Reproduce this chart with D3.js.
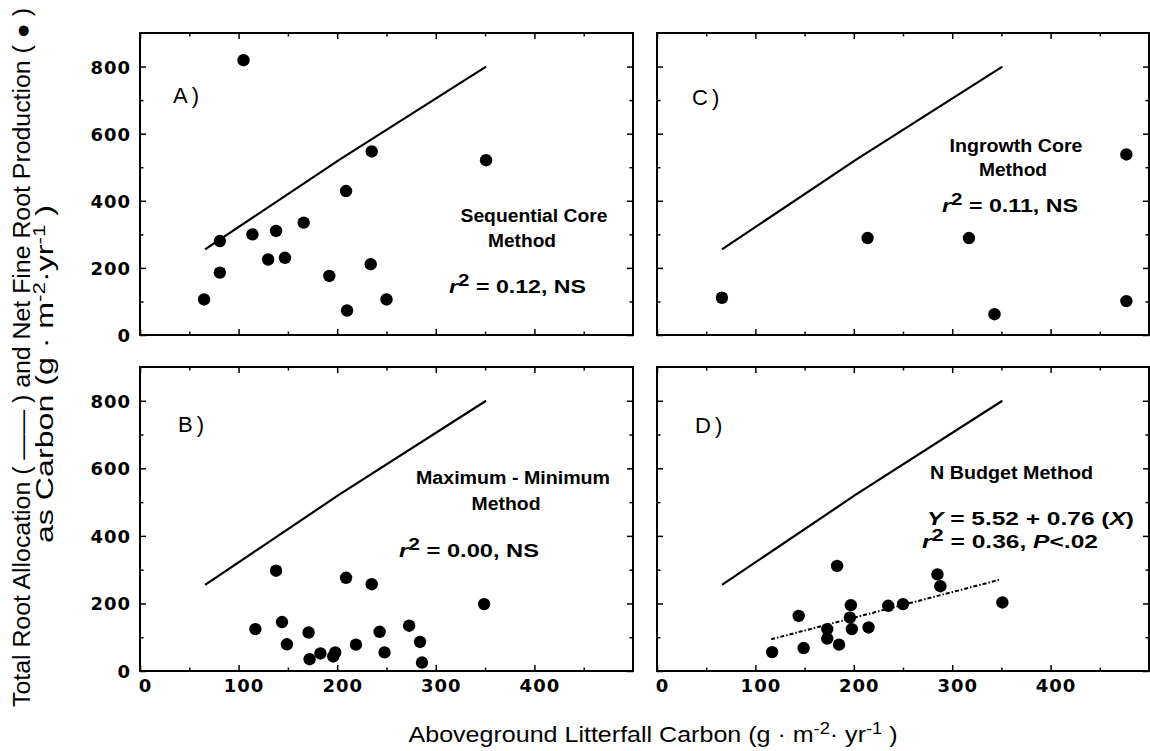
<!DOCTYPE html>
<html>
<head>
<meta charset="utf-8">
<script src="https://cdn.jsdelivr.net/npm/d3@7"></script>
<style>
body { margin: 0; background: #fff; }
svg { display: block; }
</style>
</head>
<body>
<div id="chart"></div>
<script>

// tick values
var xTicks = [0, 100, 200, 300, 400];
var yTicks = [0, 200, 400, 600, 800];

// total root allocation line (same in every panel)
var allocX = [66, 202, 351];
var allocY = [255, 522, 800];

// A) sequential core
var seqX = [65, 81, 81, 105, 114, 130, 138, 147, 166, 192, 209, 210, 234, 235, 250, 351];
var seqY = [106, 186, 280, 819, 300, 225, 310, 230, 335, 176, 429, 73, 211, 547, 106, 521];

// B) maximum - minimum
var mmX = [117, 138, 144, 149, 171, 172, 183, 196, 198, 209, 219, 235, 243, 248, 273, 284, 286, 349];
var mmY = [124, 297, 145, 79, 114, 35, 52, 43, 55, 276, 78, 257, 116, 55, 134, 86, 25, 198];

// C) ingrowth core
var ingX = [66, 214, 317, 343, 477, 477];
var ingY = [111, 289, 289, 62, 538, 101];

// D) N budget
var nbX = [117, 144, 149, 173, 173, 185, 183, 197, 196, 198, 215, 235, 250, 285, 288, 351];
var nbY = [56, 163, 68, 124, 96, 78, 311, 195, 158, 124, 129, 193, 198, 286, 251, 203];
var regX = [116, 348];
var regY = [94, 270];

var width = 1150, height = 751;
var tickFont = "'DejaVu Sans', sans-serif";
var textFont = "'Liberation Sans', Arial, sans-serif";

var svg = d3.select("#chart")
  .append("svg")
  .attr("width", width)
  .attr("height", height);

function zip(a, b) {
  return a.map(function(v, i) { return [v, b[i]]; });
}

// text with tspans, stretched to a measured width
function richText(g, x, y, parts, len, anchor) {
  var t = g.append("text")
    .attr("x", x)
    .attr("y", y)
    .attr("font-family", textFont)
    .attr("font-size", "18px")
    .attr("font-weight", "bold")
    .attr("text-anchor", anchor || "start")
    .attr("textLength", len)
    .attr("lengthAdjust", "spacingAndGlyphs");
  parts.forEach(function(p) {
    var s = t.append("tspan").text(p.t);
    if (p.it) s.attr("font-style", "italic");
    if (p.sup) s.attr("baseline-shift", "7").attr("font-size", "16px");
  });
  return t;
}

var panels = [
  { label: "A)", left: 140, right: 633, top: 33, bottom: 335, yLabels: true, xLabels: false,
    px: seqX, py: seqY, lab: [173, 103],
    notes: [
      { parts: [{t: "Sequential Core"}], x: 534, y: 222, len: 147, anchor: "middle" },
      { parts: [{t: "Method"}], x: 522, y: 247, len: 68, anchor: "middle" },
      { parts: [{t: "r", it: 1}, {t: "2", sup: 1}, {t: " = 0.12, NS"}], x: 449, y: 293, len: 137 }
    ] },
  { label: "C)", left: 657, right: 1149, top: 33, bottom: 335, yLabels: false, xLabels: false,
    px: ingX, py: ingY, lab: [692, 105],
    notes: [
      { parts: [{t: "Ingrowth Core"}], x: 1016, y: 152, len: 133, anchor: "middle" },
      { parts: [{t: "Method"}], x: 1013, y: 176, len: 68, anchor: "middle" },
      { parts: [{t: "r", it: 1}, {t: "2", sup: 1}, {t: " = 0.11, NS"}], x: 942, y: 212, len: 136 }
    ] },
  { label: "B)", left: 140, right: 633, top: 367, bottom: 671, yLabels: true, xLabels: true,
    px: mmX, py: mmY, lab: [178, 432],
    notes: [
      { parts: [{t: "Maximum - Minimum"}], x: 513, y: 484, len: 194, anchor: "middle" },
      { parts: [{t: "Method"}], x: 506, y: 510, len: 69, anchor: "middle" },
      { parts: [{t: "r", it: 1}, {t: "2", sup: 1}, {t: " = 0.00, NS"}], x: 399, y: 557, len: 140 }
    ] },
  { label: "D)", left: 657, right: 1149, top: 367, bottom: 671, yLabels: false, xLabels: true,
    px: nbX, py: nbY, lab: [695, 433], reg: true,
    notes: [
      { parts: [{t: "N Budget Method"}], x: 930, y: 479, len: 163 },
      { parts: [{t: "Y", it: 1}, {t: " = 5.52 + 0.76 ("}, {t: "X", it: 1}, {t: ")"}], x: 927, y: 525, len: 207 },
      { parts: [{t: "r", it: 1}, {t: "2", sup: 1}, {t: " = 0.36, "}, {t: "P", it: 1}, {t: "<.02"}], x: 922, y: 548, len: 176 }
    ] }
];

panels.forEach(function(p) {
  var x = d3.scaleLinear().domain([0, 500]).range([p.left, p.right]);
  var y = d3.scaleLinear().domain([0, 900]).range([p.bottom, p.top]);
  var g = svg.append("g");

  var xMinor = d3.range(50, 500, 100);
  var yMinor = d3.range(100, 900, 200);

  // inside ticks on all four sides
  var axes = [
    { ax: d3.axisLeft(y).tickValues(yTicks), t: "translate(" + p.left + ",0)", size: 6 },
    { ax: d3.axisLeft(y).tickValues(yMinor), t: "translate(" + p.left + ",0)", size: 3.5 },
    { ax: d3.axisRight(y).tickValues(yTicks), t: "translate(" + p.right + ",0)", size: 6 },
    { ax: d3.axisRight(y).tickValues(yMinor), t: "translate(" + p.right + ",0)", size: 3.5 },
    { ax: d3.axisBottom(x).tickValues(xTicks), t: "translate(0," + p.bottom + ")", size: 6 },
    { ax: d3.axisBottom(x).tickValues(xMinor), t: "translate(0," + p.bottom + ")", size: 3.5 },
    { ax: d3.axisTop(x).tickValues(xTicks), t: "translate(0," + p.top + ")", size: 6 },
    { ax: d3.axisTop(x).tickValues(xMinor), t: "translate(0," + p.top + ")", size: 3.5 }
  ];
  axes.forEach(function(a) {
    var ag = g.append("g")
      .attr("transform", a.t)
      .call(a.ax.tickSize(-a.size).tickFormat(""));
    ag.select(".domain").remove();
    ag.selectAll("line").attr("stroke", "#000").attr("stroke-width", 1.5);
  });

  // tick labels
  if (p.yLabels) {
    var yl = g.append("g")
      .attr("transform", "translate(" + p.left + ",0)")
      .call(d3.axisLeft(y).tickValues(yTicks).tickSize(0).tickPadding(9));
    yl.select(".domain").remove();
    yl.attr("font-family", tickFont).attr("font-size", "18px").attr("font-weight", "bold");
    yl.selectAll("text").attr("letter-spacing", "1px").attr("dy", "0.36em");
  }
  if (p.xLabels) {
    var xl = g.append("g")
      .attr("transform", "translate(0," + p.bottom + ")")
      .call(d3.axisBottom(x).tickValues(xTicks).tickSize(0).tickPadding(8));
    xl.select(".domain").remove();
    xl.attr("font-family", tickFont).attr("font-size", "18px").attr("font-weight", "bold");
    xl.selectAll("text").attr("letter-spacing", "1px").attr("dx", 5);
  }

  // frame
  g.append("rect")
    .attr("x", p.left)
    .attr("y", p.top)
    .attr("width", p.right - p.left)
    .attr("height", p.bottom - p.top)
    .attr("fill", "none")
    .attr("stroke", "#000")
    .attr("stroke-width", 2);

  // total root allocation
  var line = d3.line().x(function(d) { return x(d[0]); }).y(function(d) { return y(d[1]); });
  g.append("path")
    .datum(zip(allocX, allocY))
    .attr("d", line)
    .attr("fill", "none")
    .attr("stroke", "#000")
    .attr("stroke-width", 2.2);

  if (p.reg) {
    g.append("path")
      .datum(zip(regX, regY))
      .attr("d", line)
      .attr("fill", "none")
      .attr("stroke", "#000")
      .attr("stroke-width", 2)
      .attr("stroke-dasharray", "4,2,1.5,2");
  }

  // fine root production dots
  g.append("g")
    .selectAll("circle")
    .data(zip(p.px, p.py))
    .enter()
    .append("circle")
    .attr("cx", function(d) { return x(d[0]); })
    .attr("cy", function(d) { return y(d[1]); })
    .attr("r", 6.2)
    .attr("fill", "#000");

  // panel letter
  g.append("text")
    .attr("x", p.lab[0])
    .attr("y", p.lab[1])
    .attr("font-family", textFont)
    .attr("font-size", "22px")
    .attr("letter-spacing", "4px")
    .text(p.label);

  p.notes.forEach(function(n) {
    richText(g, n.x, n.y, n.parts, n.len, n.anchor);
  });
});

// y axis title, two lines
svg.append("text")
  .attr("transform", "translate(30,707) rotate(-90)")
  .attr("font-family", textFont)
  .attr("font-size", "23px")
  .attr("textLength", 699)
  .attr("lengthAdjust", "spacingAndGlyphs")
  .text("Total Root Allocation ( \u2014\u2014 ) and Net Fine Root Production ( \u25CF )");

var yt2 = svg.append("text")
  .attr("transform", "translate(53,374) rotate(-90)")
  .attr("text-anchor", "middle")
  .attr("font-family", textFont)
  .attr("font-size", "23px")
  .attr("textLength", 338)
  .attr("lengthAdjust", "spacingAndGlyphs");
yt2.append("tspan").text("as Carbon   (g \u00B7 m");
yt2.append("tspan").attr("baseline-shift", "8").attr("font-size", "16px").text("-2");
yt2.append("tspan").text("\u00B7yr");
yt2.append("tspan").attr("baseline-shift", "8").attr("font-size", "16px").text("-1");
yt2.append("tspan").text(" )");

// x axis title
var xt = svg.append("text")
  .attr("x", 653)
  .attr("y", 742)
  .attr("text-anchor", "middle")
  .attr("font-family", textFont)
  .attr("font-size", "22px")
  .attr("textLength", 489)
  .attr("lengthAdjust", "spacingAndGlyphs");
xt.append("tspan").text("Aboveground Litterfall Carbon   (g \u00B7 m");
xt.append("tspan").attr("baseline-shift", "8").attr("font-size", "16px").text("-2");
xt.append("tspan").text("\u00B7 yr");
xt.append("tspan").attr("baseline-shift", "8").attr("font-size", "16px").text("-1");
xt.append("tspan").text(" )");

</script>
</body>
</html>
